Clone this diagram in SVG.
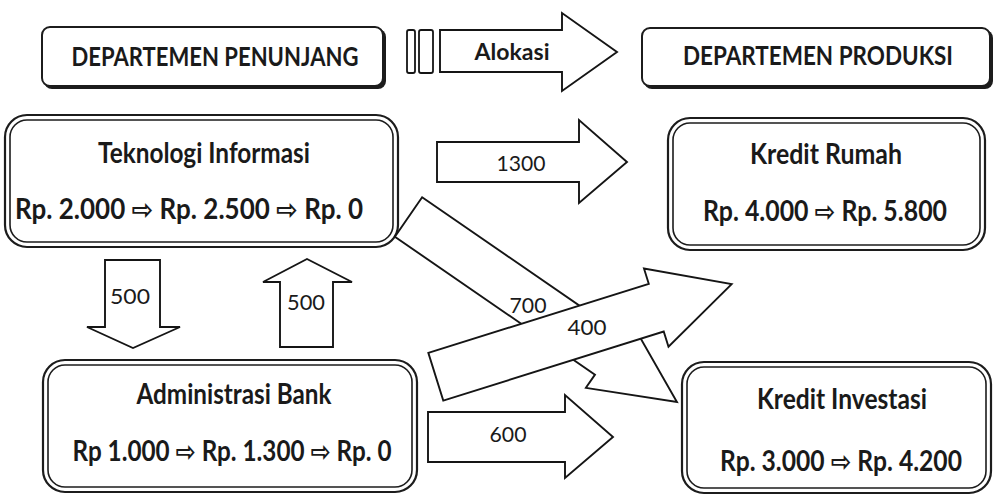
<svg xmlns="http://www.w3.org/2000/svg" width="994" height="496" viewBox="0 0 994 496">
  <style>
    .hdr { fill:#fff; stroke:#1c1c1c; stroke-width:2; }
    .hdr-shadow { fill:#1c1c1c; }
    .outer { fill:#fff; stroke:#1c1c1c; stroke-width:2.2; }
    .inner { fill:none; stroke:#1c1c1c; stroke-width:1.6; }
    .arrow { fill:#fff; stroke:#151515; stroke-width:1.9; stroke-linejoin:miter; }
    .bar { fill:#fff; stroke:#151515; stroke-width:1.8; }
    text { font-family:Lato, "Liberation Sans", "DejaVu Sans", sans-serif; fill:#1a1a1a; text-anchor:middle; }
    .b { font-weight:bold; }
    .num { font-weight:normal; font-size:22px; }
  </style>

  <rect width="994" height="496" fill="#fff"/>

  <!-- header: supporting departments -->
  <g id="hdr-penunjang">
    <rect class="hdr-shadow" x="44" y="29" width="342" height="60" rx="8"/>
    <rect class="hdr" x="42" y="27" width="341" height="59" rx="8"/>
    <text class="b" x="215" y="66" font-size="26" textLength="287" lengthAdjust="spacingAndGlyphs">DEPARTEMEN PENUNJANG</text>
  </g>

  <!-- header: allocation arrow -->
  <g id="hdr-alokasi">
    <rect class="bar" x="407" y="30" width="8" height="43" rx="2"/>
    <rect class="bar" x="419" y="30" width="14" height="43" rx="2"/>
    <polygon class="arrow" points="440,30 562,30 562,13 617,52 562,91 562,72 440,72"/>
    <text class="b" x="512" y="60" font-size="23" textLength="75" lengthAdjust="spacingAndGlyphs">Alokasi</text>
  </g>

  <!-- header: production departments -->
  <g id="hdr-produksi">
    <rect class="hdr-shadow" x="644" y="30" width="349" height="59" rx="8"/>
    <rect class="hdr" x="642" y="28" width="348" height="58" rx="8"/>
    <text class="b" x="818" y="65" font-size="26" textLength="270" lengthAdjust="spacingAndGlyphs">DEPARTEMEN PRODUKSI</text>
  </g>

  <!-- node: Teknologi Informasi -->
  <g id="node-ti">
    <rect class="outer" x="5" y="115" width="393" height="132" rx="22"/>
    <rect class="inner" x="10" y="120" width="383" height="122" rx="17"/>
    <text class="b" x="204" y="163" font-size="28" textLength="212" lengthAdjust="spacingAndGlyphs">Teknologi Informasi</text>
    <text class="b" x="189" y="219" font-size="28" textLength="348" lengthAdjust="spacingAndGlyphs">Rp. 2.000 ⇨ Rp. 2.500 ⇨ Rp. 0</text>
  </g>

  <!-- node: Administrasi Bank -->
  <g id="node-admin">
    <rect class="outer" x="43" y="360" width="374" height="132" rx="22"/>
    <rect class="inner" x="48" y="365" width="364" height="122" rx="17"/>
    <text class="b" x="234" y="404" font-size="28" textLength="195" lengthAdjust="spacingAndGlyphs">Administrasi Bank</text>
    <text class="b" x="232" y="461" font-size="28" textLength="319" lengthAdjust="spacingAndGlyphs">Rp 1.000 ⇨ Rp. 1.300 ⇨ Rp. 0</text>
  </g>

  <!-- node: Kredit Rumah -->
  <g id="node-rumah">
    <rect class="outer" x="668" y="118" width="317" height="132" rx="22"/>
    <rect class="inner" x="673" y="123" width="307" height="122" rx="17"/>
    <text class="b" x="826" y="164" font-size="28" textLength="152" lengthAdjust="spacingAndGlyphs">Kredit Rumah</text>
    <text class="b" x="825" y="221" font-size="28" textLength="244" lengthAdjust="spacingAndGlyphs">Rp. 4.000 ⇨ Rp. 5.800</text>
  </g>

  <!-- node: Kredit Investasi -->
  <g id="node-investasi">
    <rect class="outer" x="682" y="362" width="309" height="131" rx="22"/>
    <rect class="inner" x="687" y="367" width="299" height="121" rx="17"/>
    <text class="b" x="842" y="409" font-size="28" textLength="170" lengthAdjust="spacingAndGlyphs">Kredit Investasi</text>
    <text class="b" x="841" y="471" font-size="28" textLength="242" lengthAdjust="spacingAndGlyphs">Rp. 3.000 ⇨ Rp. 4.200</text>
  </g>

  <!-- block arrows carrying the allocated amounts -->
  <g id="connectors">
    <g id="flow-ti-rumah">
      <polygon class="arrow" points="437,142 579,142 579,120 627,162 579,203 579,182 437,182"/>
      <text class="num" x="521" y="171" textLength="49" lengthAdjust="spacingAndGlyphs">1300</text>
    </g>
    <g id="flow-ti-admin">
      <polygon class="arrow" points="105,260 160,260 160,327 180,327 133,348 87,327 105,327"/>
      <text class="num" x="130" y="304" textLength="40" lengthAdjust="spacingAndGlyphs">500</text>
    </g>
    <g id="flow-admin-ti">
      <polygon class="arrow" points="280,347 333,347 333,282 352,282 307,259 263,282 280,282"/>
      <text class="num" x="306" y="310" textLength="38" lengthAdjust="spacingAndGlyphs">500</text>
    </g>
    <g id="flow-ti-investasi">
      <polygon class="arrow" transform="translate(408.5 217) rotate(34.57)" points="0,-24 243,-24 243,-40 326,0 243,40 243,24 0,24"/>
      <text class="num" x="528" y="313" textLength="37" lengthAdjust="spacingAndGlyphs">700</text>
    </g>
    <g id="flow-admin-rumah">
      <polygon class="arrow" transform="translate(435.8 376.7) rotate(-17.39)" points="0,-25 231,-25 231,-41 310,0 231,41 231,25 0,25"/>
      <text class="num" x="587" y="335" textLength="39" lengthAdjust="spacingAndGlyphs">400</text>
    </g>
    <g id="flow-admin-investasi">
      <polygon class="arrow" points="428,412 565,412 565,395 613,437 565,478 565,462 428,462"/>
      <text class="num" x="508" y="442" textLength="37" lengthAdjust="spacingAndGlyphs">600</text>
    </g>
  </g>
</svg>
